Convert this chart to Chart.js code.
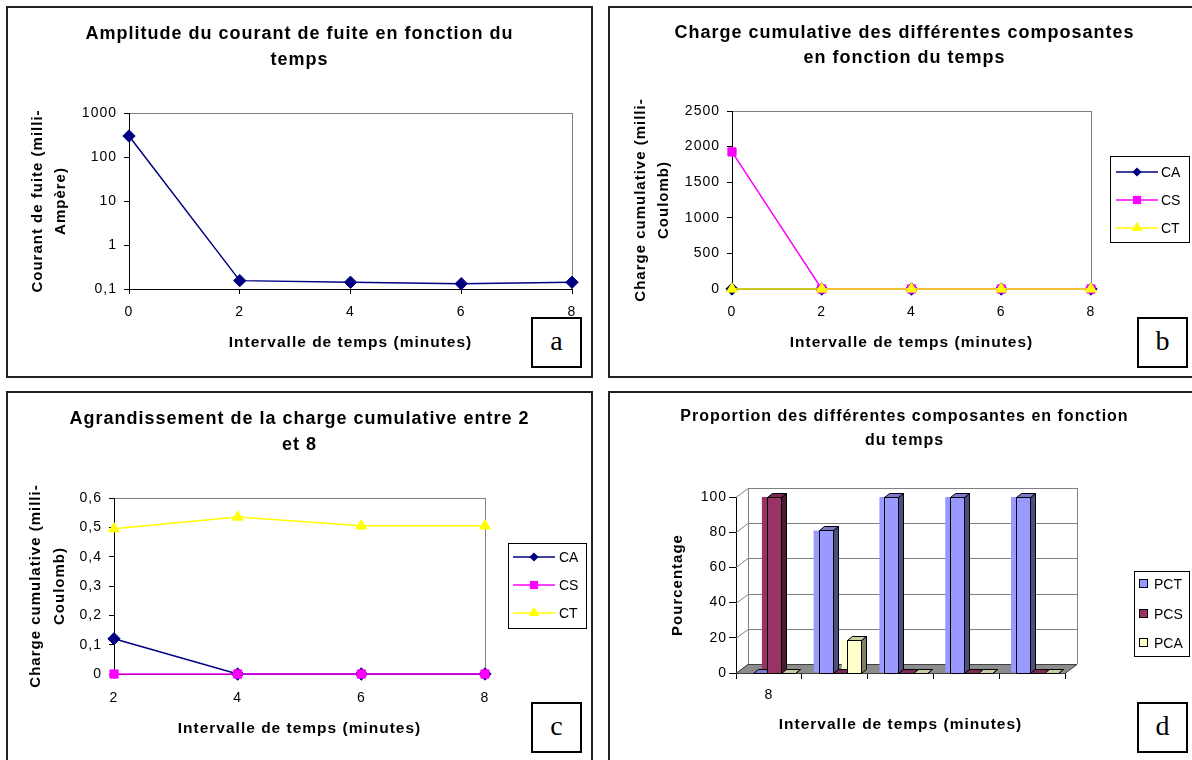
<!DOCTYPE html>
<html>
<head>
<meta charset="utf-8">
<script src="https://cdn.jsdelivr.net/npm/chart.js@4.4.0/dist/chart.umd.min.js"></script>
<style>
html, body { margin: 0; background: #fff; overflow: hidden; }
body { width: 1192px; height: 760px; position: relative; }
.panel { position: absolute; border: 2px solid #222; box-sizing: border-box; background: #fff; overflow: hidden; }
.panel canvas { position: absolute; left: 0; top: 0; }
.tag { position: absolute; width: 51px; height: 51px; border: 2px solid #000; box-sizing: border-box; background: #fff;
       font-family: "Liberation Serif", "Times New Roman", serif; font-size: 28px; text-align: center; line-height: 44px; }
</style>
</head>
<body>
<div class="panel" style="left:6px;top:6px;width:587px;height:372px"><canvas id="chartA" width="583" height="368"></canvas></div>
<div class="panel" style="left:608px;top:6px;width:593px;height:372px"><canvas id="chartB" width="589" height="368"></canvas></div>
<div class="panel" style="left:6px;top:391px;width:587px;height:380px"><canvas id="chartC" width="583" height="368"></canvas></div>
<div class="panel" style="left:608px;top:391px;width:593px;height:380px"><canvas id="chartD" width="589" height="368"></canvas></div>
<div class="tag" style="left:531px;top:317px">a</div>
<div class="tag" style="left:1137px;top:317px">b</div>
<div class="tag" style="left:531px;top:702px">c</div>
<div class="tag" style="left:1137px;top:702px">d</div>

<script>
// ---- data ----
const timeAll = ['0', '2', '4', '6', '8'];
const timeZoom = ['2', '4', '6', '8'];
const courantFuite = [300, 0.155, 0.142, 0.132, 0.142];
const logTicks = [0.1, 1, 10, 100, 1000];

const chargeCA = [0, 0.12, 0, 0, 0];
const chargeCS = [1925, 0, 0, 0, 0];
const chargeCT = [0, 0.495, 0.535, 0.505, 0.505];

const zoomCA = [0.12, 0, 0, 0];
const zoomCS = [0, 0, 0, 0];
const zoomCT = [0.495, 0.535, 0.505, 0.505];

const propLabels = ['8', '', '', '', ''];
const propPCT = [0, 81, 100, 100, 100];
const propPCS = [100, 0, 0, 0, 0];
const propPCA = [0, 19, 0, 0, 0];

const FONT = '"Liberation Sans", Arial, sans-serif';
const NAVY = '#000080', MAGENTA = '#FF00FF', YELLOW = '#FFFF00';
const PCT_COL = '#9999FF', PCS_COL = '#993366', PCA_COL = '#FFFFCC';

const fmt = v => String(Math.round(v * 1000) / 1000).replace('.', ',');

function shade(hex, f) {
    const n = parseInt(hex.slice(1), 16);
    const r = Math.round(((n >> 16) & 255) * f), g = Math.round(((n >> 8) & 255) * f), b = Math.round((n & 255) * f);
    return `rgb(${r},${g},${b})`;
}

function marker(ctx, style, x, y, r, color) {
    ctx.save();
    ctx.fillStyle = color;
    ctx.beginPath();
    if (style === 'rectRot') {
        const s = r * Math.SQRT1_2 * 1.05;
        ctx.moveTo(x - s, y); ctx.lineTo(x, y - s); ctx.lineTo(x + s, y); ctx.lineTo(x, y + s);
    } else if (style === 'rect') {
        const s = r * Math.SQRT1_2;
        ctx.rect(x - s, y - s, 2 * s, 2 * s);
    } else {
        const h = r * 1.5;
        ctx.moveTo(x, y - h * 2 / 3); ctx.lineTo(x + r * 0.87, y + h / 3); ctx.lineTo(x - r * 0.87, y + h / 3);
    }
    ctx.closePath();
    ctx.fill();
    ctx.restore();
}

// the old excel render spaces its letters out a bit
const spacing = {
    id: 'spacing',
    beforeDraw(chart, args, opts) { chart.ctx.letterSpacing = (opts.px || 0) + 'px'; },
    afterDraw(chart) { chart.ctx.letterSpacing = '0px'; }
};

// grey frame round the plot area (top and right show; axes cover the rest)
const plotFrame = {
    id: 'plotFrame',
    beforeDraw(chart, args, opts) {
        if (!opts.on) return;
        const a = chart.chartArea, ctx = chart.ctx;
        ctx.save();
        ctx.strokeStyle = '#808080';
        ctx.lineWidth = 1;
        ctx.strokeRect(Math.round(a.left) + 0.5, Math.round(a.top) + 0.5, Math.round(a.right - a.left), Math.round(a.bottom - a.top));
        ctx.restore();
    }
};

// excel style legend in a bordered box
const boxLegend = {
    id: 'boxLegend',
    afterDraw(chart, args, opts) {
        if (!opts.box) return;
        const ctx = chart.ctx;
        const [bx, by, bw, bh] = opts.box;
        ctx.save();
        ctx.letterSpacing = '0px';
        ctx.strokeStyle = '#000';
        ctx.lineWidth = 1;
        ctx.strokeRect(bx + 0.5, by + 0.5, bw, bh);
        ctx.font = '14px ' + FONT;
        ctx.textBaseline = 'middle';
        chart.data.datasets.forEach((ds, i) => {
            const y = opts.rows[i];
            if (opts.kind === 'line') {
                ctx.strokeStyle = ds.borderColor;
                ctx.lineWidth = 1.5;
                ctx.beginPath();
                ctx.moveTo(opts.lineX[0], y);
                ctx.lineTo(opts.lineX[1], y);
                ctx.stroke();
                marker(ctx, ds.pointStyle, (opts.lineX[0] + opts.lineX[1]) / 2, y, ds.pointRadius, ds.borderColor);
            } else {
                ctx.lineWidth = 1;
                ctx.fillStyle = ds.backgroundColor;
                ctx.fillRect(opts.lineX[0] + 0.5, y - 4.5, 8, 8);
                ctx.strokeStyle = '#000';
                ctx.strokeRect(opts.lineX[0] + 0.5, y - 4.5, 8, 8);
            }
            ctx.fillStyle = '#000';
            ctx.fillText(ds.label, opts.textX, y + 1);
        });
        ctx.restore();
    }
};

// walls, floor and box faces for the 3-D column chart
const depth3d = {
    id: 'depth3d',
    beforeDatasetsDraw(chart, args, opts) {
        if (!opts.on) return;
        const {ctx, chartArea: a} = chart;
        const y = chart.scales.y;
        const dx = opts.dx, dy = opts.dy;
        ctx.save();
        ctx.lineWidth = 1;
        ctx.strokeStyle = '#808080';
        y.ticks.forEach(t => {
            const py = Math.round(y.getPixelForValue(t.value)) + 0.5;
            ctx.beginPath();
            ctx.moveTo(a.left, py);
            ctx.lineTo(a.left + dx, py + dy);
            ctx.lineTo(a.right + dx, py + dy);
            ctx.stroke();
        });
        ctx.beginPath();
        ctx.moveTo(a.left + dx + 0.5, a.top + dy);
        ctx.lineTo(a.left + dx + 0.5, a.bottom + dy);
        ctx.moveTo(a.right + dx + 0.5, a.top + dy);
        ctx.lineTo(a.right + dx + 0.5, a.bottom + dy);
        ctx.stroke();
        ctx.beginPath();
        ctx.moveTo(a.left, a.bottom + 0.5);
        ctx.lineTo(a.right, a.bottom + 0.5);
        ctx.lineTo(a.right + dx, a.bottom + dy + 0.5);
        ctx.lineTo(a.left + dx, a.bottom + dy + 0.5);
        ctx.closePath();
        ctx.fillStyle = '#8c8c8c';
        ctx.fill();
        ctx.strokeStyle = '#404040';
        ctx.stroke();
        ctx.restore();
    },
    afterDatasetsDraw(chart, args, opts) {
        if (!opts.on) return;
        const ctx = chart.ctx;
        const n = chart.data.labels.length;
        ctx.save();
        ctx.translate(opts.shift, 0);
        ctx.lineWidth = 1;
        ctx.strokeStyle = '#000';
        for (let j = 0; j < n; j++) {
            chart.data.datasets.forEach((ds, i) => {
                const bar = chart.getDatasetMeta(i).data[j];
                const {x, y, base, width} = bar.getProps(['x', 'y', 'base', 'width'], true);
                const l = Math.round(x - width / 2) + 0.5, r = Math.round(x + width / 2) + 0.5;
                const t = Math.round(y) + 0.5, b = Math.round(base) + 0.5;
                const bd = opts.bd, bh = opts.bh;
                if (b - t > 0.5) {
                    ctx.fillStyle = ds.backgroundColor;
                    ctx.fillRect(l, t, r - l, b - t);
                    ctx.strokeRect(l, t, r - l, b - t);
                }
                ctx.beginPath();
                ctx.moveTo(r, t); ctx.lineTo(r + bd, t - bh); ctx.lineTo(r + bd, b - bh); ctx.lineTo(r, b);
                ctx.closePath();
                ctx.fillStyle = shade(ds.backgroundColor, 0.5);
                ctx.fill(); ctx.stroke();
                ctx.beginPath();
                ctx.moveTo(l, t); ctx.lineTo(l + bd, t - bh); ctx.lineTo(r + bd, t - bh); ctx.lineTo(r, t);
                ctx.closePath();
                ctx.fillStyle = shade(ds.backgroundColor, 0.8);
                ctx.fill(); ctx.stroke();
            });
        }
        ctx.restore();
    }
};

Chart.register(spacing, plotFrame, boxLegend, depth3d);

function lineSet(label, data, color, style, order) {
    return {
        label: label, data: data, borderColor: color, backgroundColor: color,
        borderWidth: 1.5, pointStyle: style, pointRadius: style === 'rect' ? 5.8 : 6.2,
        pointBackgroundColor: color, pointBorderColor: color, pointBorderWidth: 1,
        tension: 0, clip: false, order: order, xAxisID: 'x', yAxisID: 'y'
    };
}

function titleOpts(lines, size, lh, top, bottom) {
    return {
        display: true, text: lines, color: '#000',
        font: {family: FONT, size: size, weight: 'bold', lineHeight: lh + 'px'},
        padding: {top: top, bottom: bottom}
    };
}

const tickFont = {family: FONT, size: 14};

function xScale(labels, tickPad, titlePad, height, extra) {
    return Object.assign({
        type: 'category', labels: labels,
        ticks: {color: '#000', font: tickFont, padding: tickPad, maxRotation: 0, autoSkip: false},
        grid: {drawOnChartArea: false, color: '#000', tickColor: '#000', tickLength: 5},
        border: {color: '#000', width: 1},
        title: {display: true, text: 'Intervalle de temps (minutes)', color: '#000',
                font: {family: FONT, size: 15.5, weight: 'bold', lineHeight: '18px'}, padding: {top: 0, bottom: titlePad}},
        afterFit: s => { s.height = height; }
    }, extra || {});
}

function yScale(title, titleLh, titlePad, width, extra) {
    return Object.assign({
        grid: {drawOnChartArea: false, color: '#000', tickColor: '#000', tickLength: 5},
        border: {color: '#000', width: 1},
        title: {display: true, text: title, color: '#000',
                font: {family: FONT, size: 15, weight: 'bold', lineHeight: titleLh + 'px'}, padding: {top: titlePad, bottom: 0}},
        afterFit: s => { s.width = width; }
    }, extra);
}

// empty box on the right that holds the legend room, so the title stays centred on the whole panel
function rightRoom(width) {
    return {
        type: 'linear', axis: 'y', position: 'right', display: true,
        grid: {display: false}, border: {display: false}, ticks: {display: false},
        afterFit: s => { s.width = width; }
    };
}

const yTicks = (step, pad) => ({color: '#000', font: tickFont, padding: pad === undefined ? 7 : pad, stepSize: step, callback: v => fmt(v)});

const base = {responsive: false, animation: false, events: [], layout: {padding: 0}};

// a : leakage current, log scale
new Chart(document.getElementById('chartA'), {
    type: 'line',
    data: {labels: timeAll, datasets: [lineSet('Courant', courantFuite, NAVY, 'rectRot', 0)]},
    options: Object.assign({}, base, {
        scales: {
            x: xScale(timeAll, 10, 24, 87),
            y: yScale(['Courant de fuite (milli-', 'Ampère)'], 23, 18.5, 121, {
                type: 'logarithmic', min: 0.1, max: 1000,
                ticks: {color: '#000', font: tickFont, padding: 7, callback: v => fmt(v)},
                afterBuildTicks: s => { s.ticks = logTicks.map(v => ({value: v})); }
            }),
            room: rightRoom(19)
        },
        plugins: {
            legend: {display: false}, tooltip: {enabled: false},
            title: titleOpts(['Amplitude du courant de fuite en fonction du', 'temps'], 18, 26, 13, 40),
            spacing: {px: 1},
            plotFrame: {on: true}
        }
    })
});

// b : cumulative charge
new Chart(document.getElementById('chartB'), {
    type: 'line',
    data: {labels: timeAll, datasets: [
        lineSet('CA', chargeCA, NAVY, 'rectRot', 2),
        lineSet('CS', chargeCS, MAGENTA, 'rect', 1),
        lineSet('CT', chargeCT, YELLOW, 'triangle', 0)
    ]},
    options: Object.assign({}, base, {
        scales: {
            x: xScale(timeAll, 10, 24, 87),
            y: yScale(['Charge cumulative (milli-', 'Coulomb)'], 23, 19.5, 122, {
                type: 'linear', min: 0, max: 2500, ticks: yTicks(500)
            }),
            room: rightRoom(108)
        },
        plugins: {
            legend: {display: false}, tooltip: {enabled: false},
            title: titleOpts(['Charge cumulative des différentes composantes', 'en fonction du temps'], 18, 25, 12.5, 40.5),
            spacing: {px: 1},
            plotFrame: {on: true},
            boxLegend: {box: [500, 148, 79, 86], rows: [164, 192, 220], kind: 'line', lineX: [506, 548], textX: 551}
        }
    })
});

// c : zoom between 2 and 8
new Chart(document.getElementById('chartC'), {
    type: 'line',
    data: {labels: timeZoom, datasets: [
        lineSet('CA', zoomCA, NAVY, 'rectRot', 2),
        lineSet('CS', zoomCS, MAGENTA, 'rect', 1),
        lineSet('CT', zoomCT, YELLOW, 'triangle', 0)
    ]},
    options: Object.assign({}, base, {
        scales: {
            x: xScale(timeZoom, 11, 23, 87),
            y: yScale(['Charge cumulative (milli-', 'Coulomb)'], 24, 16, 106, {
                type: 'linear', min: 0, max: 0.6, ticks: yTicks(0.1)
            }),
            room: rightRoom(106)
        },
        plugins: {
            legend: {display: false}, tooltip: {enabled: false},
            title: titleOpts(['Agrandissement de la charge cumulative entre 2', 'et 8'], 18, 26, 13, 40),
            spacing: {px: 1},
            plotFrame: {on: true},
            boxLegend: {box: [500, 150, 78, 85], rows: [164, 192, 220], kind: 'line', lineX: [505, 547], textX: 551}
        }
    })
});

// d : proportions, 3-D columns
new Chart(document.getElementById('chartD'), {
    type: 'bar',
    data: {labels: propLabels, datasets: [
        {label: 'PCT', data: propPCT, backgroundColor: PCT_COL, xAxisID: 'x', yAxisID: 'y'},
        {label: 'PCS', data: propPCS, backgroundColor: PCS_COL, xAxisID: 'x', yAxisID: 'y'},
        {label: 'PCA', data: propPCA, backgroundColor: PCA_COL, xAxisID: 'x', yAxisID: 'y'}
    ]},
    options: Object.assign({}, base, {
        datasets: {bar: {categoryPercentage: 0.64, barPercentage: 1, borderWidth: 0}},
        scales: {
            x: xScale(propLabels, 8, 27, 88, {
                grid: {drawOnChartArea: false, color: '#000', tickColor: '#000', tickLength: 6, offset: true}
            }),
            y: yScale('Pourcentage', 18, 59, 126, {
                type: 'linear', min: 0, max: 100, ticks: yTicks(20, 2),
                grid: {drawOnChartArea: false, color: '#000', tickColor: '#000', tickLength: 7}
            }),
            room: rightRoom(134)
        },
        plugins: {
            legend: {display: false}, tooltip: {enabled: false},
            title: titleOpts(['Proportion des différentes composantes en fonction', 'du temps'], 16, 24, 12, 44),
            spacing: {px: 1},
            depth3d: {on: true, dx: 12, dy: -9, bd: 5, bh: 4, shift: 5},
            boxLegend: {box: [524, 178, 55, 85], rows: [191, 221, 250], kind: 'square', lineX: [529], textX: 544}
        }
    })
});
</script>
</body>
</html>
